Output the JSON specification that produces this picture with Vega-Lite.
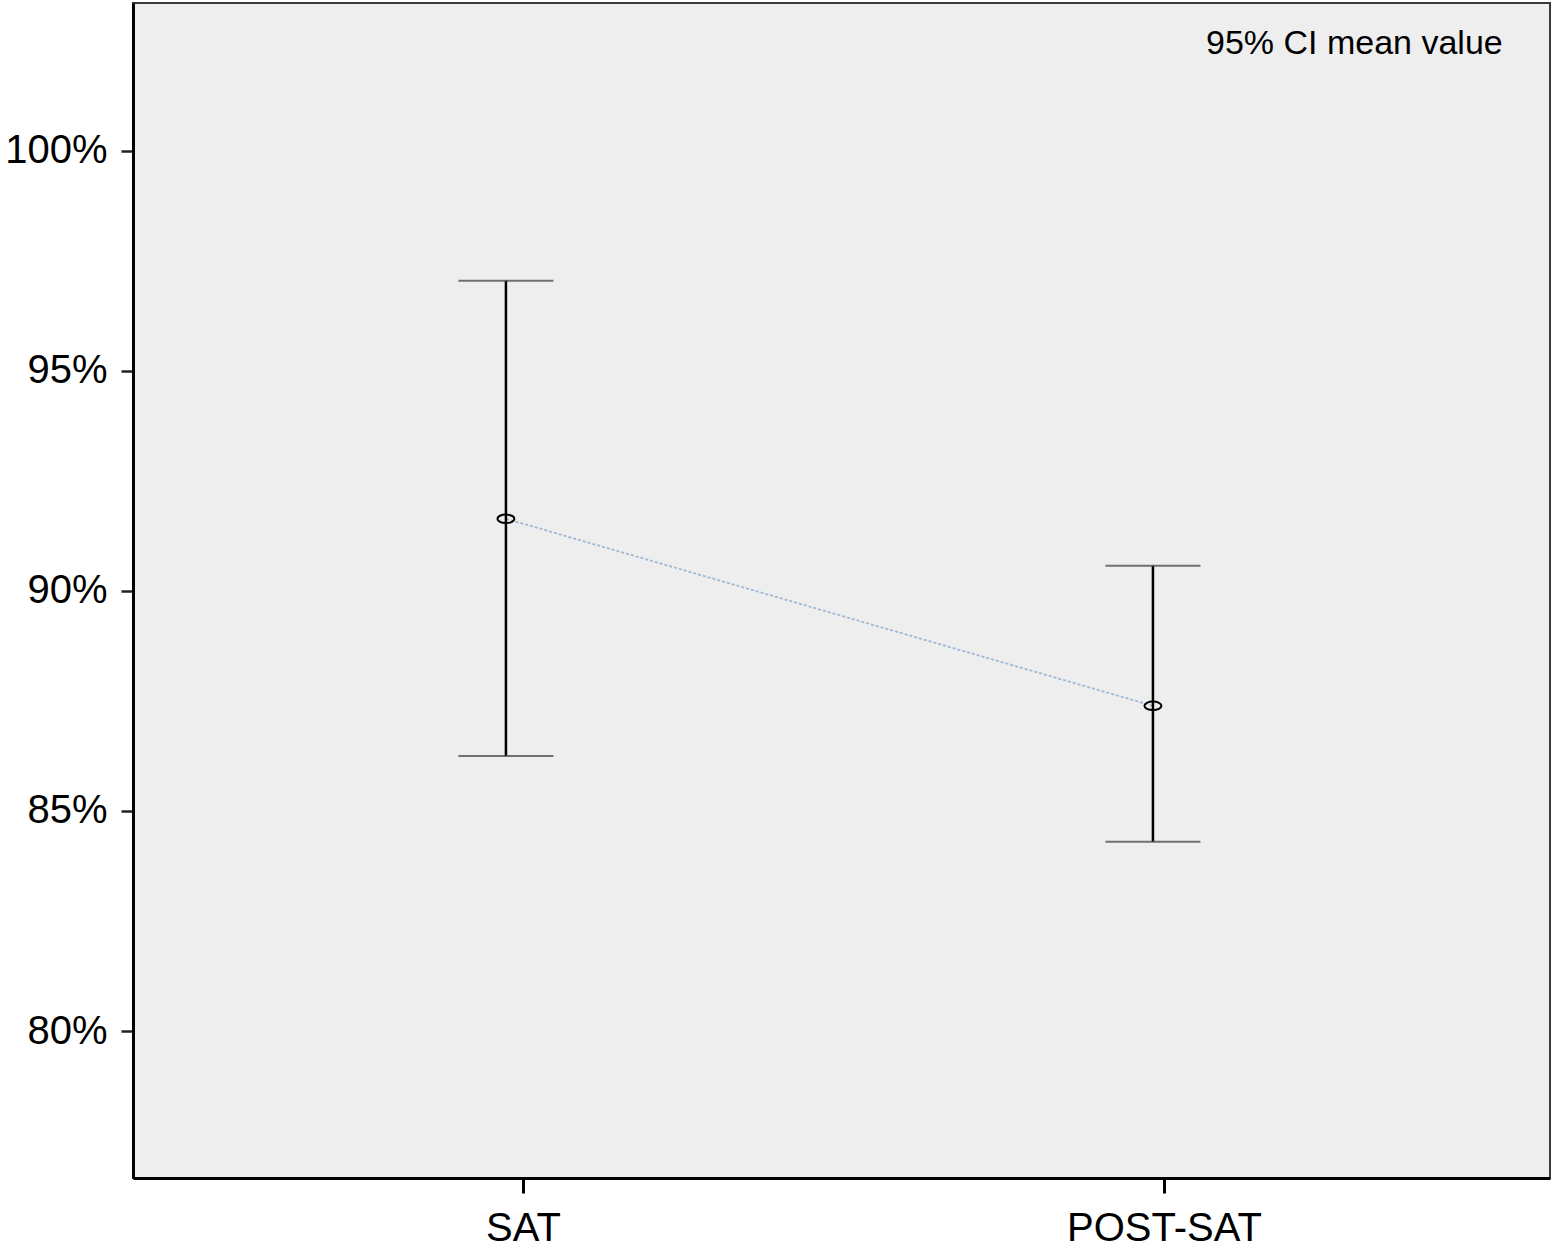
{
  "$schema": "https://vega.github.io/schema/vega-lite/v6.json",
  "autosize": {"type": "none"},
  "padding": {"left": 133, "top": 3, "right": 8, "bottom": 77},
  "width": 1417,
  "height": 1175,
  "background": "white",
  "config": {
    "view": {"fill": "#eeeeee", "stroke": "#3a3a3a", "strokeWidth": 2},
    "font": "Liberation Sans"
  },
  "data": {
    "values": [
      {"group": "SAT", "x": 1, "mean": 91.64, "lo": 86.25, "hi": 97.05},
      {"group": "POST-SAT", "x": 2, "mean": 87.39, "lo": 84.3, "hi": 90.57}
    ]
  },
  "encoding": {
    "x": {
      "field": "x", "type": "quantitative",
      "scale": {"domain": [0.4236, 2.6137], "nice": false, "zero": false},
      "axis": {
        "title": null, "grid": false,
        "values": [1.0264, 2.017],
        "labelExpr": "datum.value < 1.5 ? 'SAT' : 'POST-SAT'",
        "labelFontSize": 40, "labelColor": "black", "labelFont": "Liberation Sans",
        "labelPadding": 15, "labelLimit": 400,
        "domainColor": "black", "domainWidth": 3,
        "tickColor": "black", "tickWidth": 3, "tickSize": 15
      }
    }
  },
  "layer": [
    {
      "mark": {"type": "line", "strokeDash": [3, 2], "strokeWidth": 1.8},
      "encoding": {
        "y": {
          "field": "mean", "type": "quantitative",
          "scale": {"domain": [76.66, 103.36], "nice": false, "zero": false},
          "axis": {
            "title": null, "grid": false,
            "values": [80, 85, 90, 95, 100],
            "labelExpr": "datum.value + '%'",
            "labelFontSize": 40, "labelColor": "black", "labelFont": "Liberation Sans",
            "labelPadding": 14, "labelLimit": 300,
            "domainColor": "black", "domainWidth": 3,
            "tickColor": "#222222", "tickWidth": 2.5, "tickSize": 12
          }
        },
        "color": {
          "datum": "95% CI mean value",
          "scale": {"range": ["#9fb8d4"]},
          "legend": {
            "orient": "none", "legendX": 1039, "legendY": 24,
            "title": null, "padding": 0,
            "symbolSize": 0, "symbolStrokeWidth": 0, "symbolOpacity": 0,
            "symbolOffset": 0, "labelOffset": 0, "columnPadding": 0,
            "labelFontSize": 34, "labelColor": "black", "labelFont": "Liberation Sans",
            "labelLimit": 0
          }
        }
      }
    },
    {
      "mark": {"type": "rule", "color": "black", "strokeWidth": 2.5},
      "encoding": {
        "y": {"field": "lo", "type": "quantitative"},
        "y2": {"field": "hi"}
      }
    },
    {
      "mark": {"type": "tick", "orient": "horizontal", "color": "#3a3a3a", "thickness": 2, "size": 95},
      "encoding": {
        "y": {"field": "lo", "type": "quantitative"}
      }
    },
    {
      "mark": {"type": "tick", "orient": "horizontal", "color": "#3a3a3a", "thickness": 2, "size": 95},
      "encoding": {
        "y": {"field": "hi", "type": "quantitative"}
      }
    },
    {
      "mark": {
        "type": "point",
        "shape": "M -1 0 A 1 0.5 0 1 0 1 0 A 1 0.5 0 1 0 -1 0 Z",
        "filled": false, "color": "black", "strokeWidth": 2, "size": 289, "opacity": 1
      },
      "encoding": {
        "y": {"field": "mean", "type": "quantitative"}
      }
    }
  ]
}
